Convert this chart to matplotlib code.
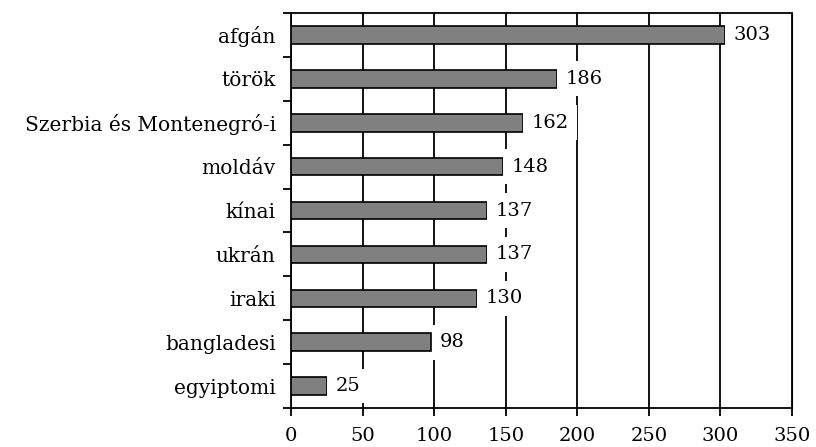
import matplotlib.pyplot as plt
import numpy as np

categories = ["afgán", "török", "Szerbia és Montenegró-i", "moldáv", "kínai",
              "ukrán", "iraki", "bangladesi", "egyiptomi"]
values = [303, 186, 162, 148, 137, 137, 130, 98, 25]
xticks = [0, 50, 100, 150, 200, 250, 300, 350]

plt.rcParams['font.family'] = ['DejaVu Serif']
fs = 14

fig = plt.figure(figsize=(8.16, 4.47), dpi=100)
ax = fig.add_axes([0.3566, 0.0872, 0.6140, 0.8837])

y = np.arange(len(categories))
ax.barh(y, values, height=0.4, color="#808080", edgecolor="black",
        linewidth=1.2, zorder=3)

for yi, v in zip(y, values):
    ax.text(v + 6, yi, str(v), va="center", ha="left", fontsize=fs,
            zorder=4, bbox=dict(facecolor="white", edgecolor="none", pad=6))

ax.set_xlim(0, 350)
ax.set_ylim(len(categories) - 0.5, -0.5)
ax.set_xticks(xticks)
ax.set_xticklabels([str(t) for t in xticks], fontsize=fs)
ax.xaxis.grid(True, color="black", linewidth=1.3, zorder=0)
ax.set_axisbelow(True)

# category labels without tick marks, tick marks at the boundaries
ax.set_yticks(y)
ax.set_yticklabels(categories, fontsize=14.5)
ax.tick_params(axis="y", length=0, pad=11)
ax.set_yticks(np.arange(-0.5, len(categories)), minor=True)
ax.tick_params(axis="y", which="minor", length=6, width=1.3, direction="out")
ax.tick_params(axis="x", length=6, width=1.3, direction="out", pad=8)

for s in ax.spines.values():
    s.set_linewidth(1.3)
ax.spines["right"].set_linewidth(0.8)

fig.savefig("out.png", dpi=100)
